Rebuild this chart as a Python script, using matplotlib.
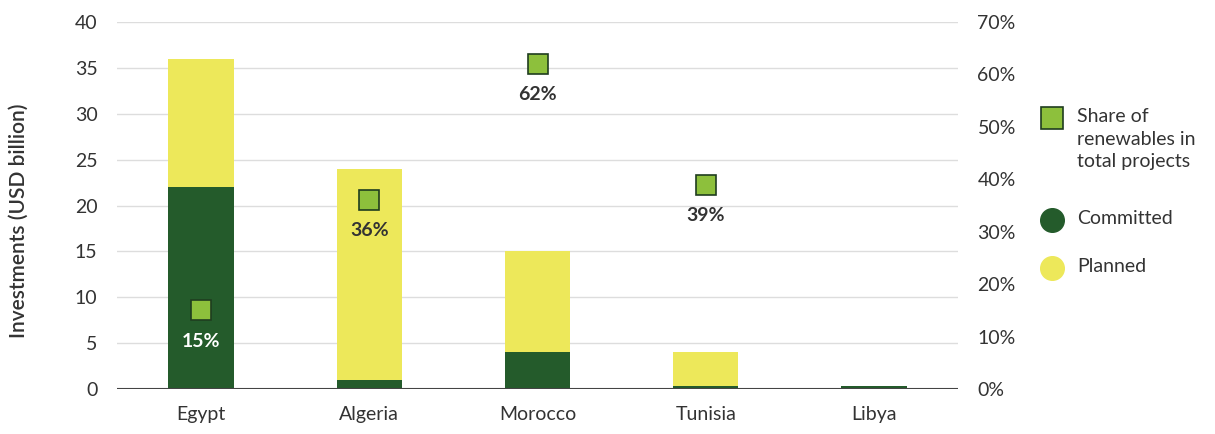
import matplotlib
matplotlib.use("Agg")
import matplotlib.pyplot as plt
from matplotlib.lines import Line2D
import numpy as np

countries = ["Egypt", "Algeria", "Morocco", "Tunisia", "Libya"]
committed = [22, 1, 4, 0.3, 0.3]
planned = [14, 23, 11, 3.7, 0]
share = [15, 36, 62, 39, None]
left_ticks = [0, 5, 10, 15, 20, 25, 30, 35, 40]
right_ticks = [0, 10, 20, 30, 40, 50, 60, 70]
legend_labels = ["Share of\nrenewables in\ntotal projects", "Committed", "Planned"]

DARK = "#245b2b"
YELLOW = "#ede85a"
LIGHT = "#8dc03c"
TXT = "#333333"

plt.rcParams['font.family'] = ['Lato', 'DejaVu Sans']

fig = plt.figure(figsize=(12.15, 4.34), dpi=100)
ax = fig.add_axes([117/1215, 45/434, (958-117)/1215, (389-22)/434])
x = np.arange(len(countries))
w = 0.39
ax.bar(x, committed, w, color=DARK, zorder=3)
ax.bar(x, planned, w, bottom=committed, color=YELLOW, zorder=3)
ax.set_xlim(-0.5, 4.5)
ax.set_ylim(0, 40)
ax.set_yticks(left_ticks)
ax.set_yticklabels([str(t) for t in left_ticks], fontsize=14, color=TXT)
ax.set_xticks(x)
ax.set_xticklabels(countries, fontsize=14, color=TXT)
ax.tick_params(axis='both', length=0)
ax.tick_params(axis='x', pad=12)
ax.tick_params(axis='y', pad=14)
ax.grid(axis='y', color='#dddddd', linewidth=1, zorder=0)
for s in ax.spines.values():
    s.set_visible(False)
ax.axhline(0, color='#444444', linewidth=1.5, zorder=4)
ax.set_ylabel("Investments (USD billion)", fontsize=15, color=TXT, fontweight='semibold')
ax.yaxis.set_label_coords(-0.105, 0.458)

ax2 = ax.twinx()
ax2.set_ylim(0, 70)
ax2.set_yticks(right_ticks)
ax2.set_yticklabels([f"{t}%" for t in right_ticks], fontsize=14, color=TXT)
ax2.tick_params(axis='y', length=0, pad=14)
for s in ax2.spines.values():
    s.set_visible(False)

for i, v in enumerate(share):
    if v is None:
        continue
    ax2.plot(i, v, marker='s', markersize=15, markerfacecolor=LIGHT,
             markeredgecolor='#1f3d1f', markeredgewidth=1.2, linestyle='none', zorder=5)
    ax2.annotate(f"{v}%", (i, v), xytext=(0, -16), textcoords='offset points',
                 ha='center', va='top', fontsize=14, fontweight='bold',
                 color='white' if i == 0 else TXT, zorder=6)

# manual legend (handle aligned to first text line)
hx = 1052 / 1215
tx = 1077 / 1215
ys = [118, 220, 268]
styles = [
    dict(marker='s', markerfacecolor=LIGHT, markeredgecolor='#1f3d1f', markeredgewidth=1.2, markersize=16),
    dict(marker='o', markerfacecolor=DARK, markeredgecolor=DARK, markersize=17),
    dict(marker='o', markerfacecolor=YELLOW, markeredgecolor=YELLOW, markersize=17),
]
for lab, yy, st in zip(legend_labels, ys, styles):
    yf = 1 - yy / 434
    fig.add_artist(Line2D([hx], [yf], linestyle='none', transform=fig.transFigure, **st))
    fig.text(tx, yf + 10/434, lab, fontsize=14, color=TXT, va='top', ha='left',
             linespacing=1.4, transform=fig.transFigure)

fig.savefig("out.png", dpi=100)
